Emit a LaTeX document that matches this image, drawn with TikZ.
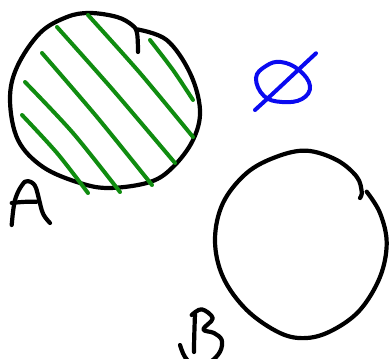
\documentclass[tikz,border=0pt]{standalone}
\begin{document}
\begin{tikzpicture}[x=1pt,y=-1pt,
  ink/.style={line width=4.2pt,line cap=round,line join=round,black},
  hatch/.style={line width=4pt,line cap=round,color=hatchgreen},
  emptyset/.style={line width=4pt,line cap=round,color=setblue}]
\definecolor{hatchgreen}{RGB}{16,140,16}
\definecolor{setblue}{RGB}{10,10,240}
\useasboundingbox (0,0) rectangle (389,359);
\clip (0,0) rectangle (389,359);
% circle A
\draw[ink] plot[smooth,tension=0.6] coordinates {(136.7,29.3) (166.7,40) (190,73) (200,110) (193,140) (173,167) (150,182) (110,188) (80,183) (43,167) (18,140) (10,100) (17,67) (40,33) (67,17) (90,13) (117,17) (132,25) (137,33) (138,52)};
% hatching
\draw[hatch] plot[smooth] coordinates {(88,15) (140,73) (193,137)};
\draw[hatch] plot[smooth] coordinates {(57,27) (113,90) (175,163)};
\draw[hatch] plot[smooth] coordinates {(42,53) (97,117) (152,185)};
\draw[hatch] plot[smooth] coordinates {(25,82) (73,133) (120,192)};
\draw[hatch] plot[smooth] coordinates {(22,115) (57,153) (88,193)};
\draw[hatch] plot[smooth] coordinates {(150,40) (173,70) (193,100)};
% label A
\draw[ink] plot[smooth,tension=0.5] coordinates {(11.7,225) (13,212) (15,200) (19,190) (25,181.7) (31,182) (36,188) (41.7,210) (45,217) (50,223)};
\draw[ink] (11.7,203) .. controls (20,202) and (28,201.5) .. (36.7,201.7);
% empty set
\draw[emptyset] plot[smooth cycle,tension=0.7] coordinates {(256,78) (266,66) (281,62) (299,70) (310,86) (302,99) (282,102) (264,96)};
\draw[emptyset] (255,110) .. controls (275,92) and (300,68) .. (316,53.3);
% circle B
\draw[ink] plot[smooth,tension=0.6] coordinates {(366.7,191.7) (380,213) (386.7,243) (380,277) (360,310) (333,330) (306.7,338) (280,333) (246.7,310) (223,277) (215,240) (223,203) (246.7,173) (276.7,156.7) (306.7,150.7) (336.7,160) (356.7,176.7) (361.7,191.7) (360,198)};
% label B
\draw[ink] (195,314) .. controls (194.5,328) and (194,340) .. (194,352);
\draw[ink] plot[smooth,tension=0.6] coordinates {(191.7,315) (201.7,309.3) (212.7,318.3) (203.3,329.3) (214,333) (221.7,340) (220,351.7) (210,362) (195,366) (185,357) (180,345)};
\end{tikzpicture}
\end{document}
